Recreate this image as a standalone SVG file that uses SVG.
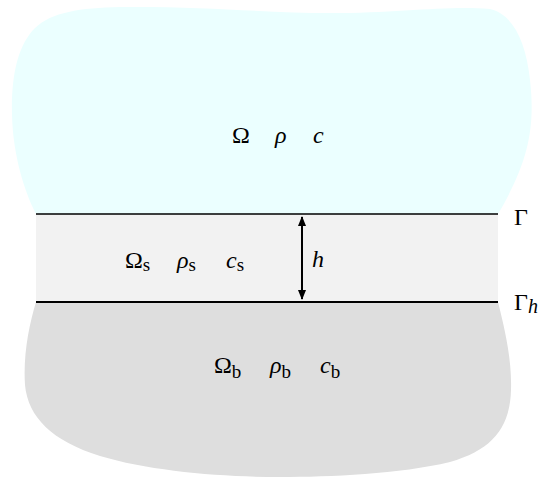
<svg xmlns="http://www.w3.org/2000/svg" width="541" height="477" viewBox="0 0 541 477">
<style>
text{font-family:"Liberation Serif","Times New Roman",serif;font-size:24px;fill:#000}
.it{font-style:italic}
.sub{font-size:19px;font-style:normal}
.bnd{stroke:#000;fill:none}
</style>
<defs>
<marker id="ah" viewBox="0 0 10 10" refX="9" refY="5" markerWidth="5" markerHeight="5" orient="auto-start-reverse" markerUnits="strokeWidth">
<path d="M0,1 L10,5 L0,9 z" fill="#000"/>
</marker>
</defs>
<rect width="541" height="477" fill="#fff"/>
<g id="fluid" font-family="Liberation Serif, serif" font-size="24">
<path d="M36,214 C24,190 13,155 12,115 C11,75 18,45 35,28 C52,12 80,8 120,7 C200,6 270,13 330,13 C400,13 450,5 490,9 C512,14 526,40 530,80 C535,125 530,160 498,214 Z" fill="#ebffff"/>
<text x="232" y="143">Ω</text>
<text class="it" x="275" y="143">ρ</text>
<text class="it" x="313" y="143">c</text>
</g>
<g id="layer" font-family="Liberation Serif, serif" font-size="24">
<rect x="36" y="214" width="462" height="88" fill="#f2f2f2"/>
<text x="125" y="268">Ω<tspan class="sub" dy="3">s</tspan></text>
<text x="177" y="268"><tspan class="it">ρ</tspan><tspan class="sub" dy="3">s</tspan></text>
<text x="226" y="268"><tspan class="it">c</tspan><tspan class="sub" dy="3">s</tspan></text>
</g>
<g id="bottom" font-family="Liberation Serif, serif" font-size="24">
<path d="M36,302 L498,302 C505,330 512,360 511,390 C510,428 492,450 450,462 C400,474 330,477 280,477 C220,477 150,471 100,456 C52,441 28,417 25,385 C23,355 29,325 36,302 Z" fill="#dedede"/>
<text x="214" y="373">Ω<tspan class="sub" dy="5">b</tspan></text>
<text x="270" y="373"><tspan class="it">ρ</tspan><tspan class="sub" dy="5">b</tspan></text>
<text x="320" y="373"><tspan class="it">c</tspan><tspan class="sub" dy="5">b</tspan></text>
</g>
<g id="connectors">
<line class="bnd" x1="36" y1="214" x2="498" y2="214" stroke-width="1.5"/>
<line class="bnd" x1="36" y1="302" x2="498" y2="302" stroke-width="2.2"/>
<line class="bnd" x1="302" y1="217" x2="302" y2="299" stroke-width="2" marker-start="url(#ah)" marker-end="url(#ah)"/>
</g>
<g id="labels" font-family="Liberation Serif, serif" font-size="24">
<text class="it" x="312" y="267">h</text>
<text x="514" y="225">Γ</text>
<text x="514" y="310">Γ<tspan class="it" font-size="20" dy="3">h</tspan></text>
</g>
</svg>
